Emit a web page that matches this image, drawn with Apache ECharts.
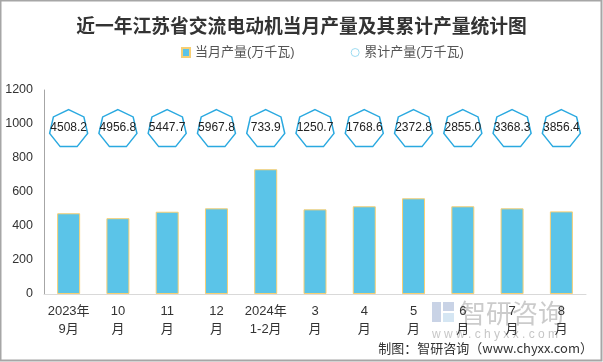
<!DOCTYPE html>
<html><head><meta charset="utf-8">
<script src="https://cdn.jsdelivr.net/npm/echarts@6/dist/echarts.min.js"></script>
<style>html,body{margin:0;padding:0;background:#fff}#c{width:603px;height:362px}</style>
</head><body><div id="c"></div>
<script>
const categories = ['2023年\n9月','10\n月','11\n月','12\n月','2024年\n1-2月','3\n月','4\n月','5\n月','6\n月','7\n月','8\n月'];
const monthly = [475, 446, 484, 504, 733.9, 498, 516, 563, 516, 504, 486];
const cumulative = [4508.2, 4956.8, 5447.7, 5967.8, 733.9, 1250.7, 1768.6, 2372.8, 2855.0, 3368.3, 3856.4];
const yTicks = {min: 0, max: 1200, interval: 200};

const markerLevel = 976;
const hept = 'path://M100 0 L178.18 37.65 L197.49 122.25 L143.39 190.1 L56.61 190.1 L2.51 122.25 L21.82 37.65 Z';
const FONT = '"Liberation Sans","Noto Sans CJK SC",sans-serif';

const chart = echarts.init(document.getElementById('c'), null, {renderer:'canvas'});
chart.setOption({
  animation:false,
  backgroundColor:'#fff',
  title:{text:'近一年江苏省交流电动机当月产量及其累计产量统计图', left:'center', top:11,
    textStyle:{fontFamily:'"Noto Sans CJK SC",sans-serif', fontSize:18.8, fontWeight:'bold', color:'#333'}},
  legend:{left:176, top:41, itemGap:56, itemWidth:8, itemHeight:9,
    textStyle:{fontFamily:FONT, fontSize:13, color:'#555'},
    data:[{name:'当月产量(万千瓦)', icon:'rect'},
          {name:'累计产量(万千瓦)', icon:'circle', itemStyle:{color:'#fff', borderColor:'#9ddcf2', borderWidth:1}}]},
  grid:{left:44, right:17, top:90, bottom:68, containLabel:false},
  xAxis:{type:'category', data:categories,
    axisLine:{lineStyle:{color:'#d9d9d9', width:1}}, axisTick:{show:false},
    axisLabel:{interval:0, fontFamily:FONT, fontSize:13, color:'#333', lineHeight:18, margin:8}},
  yAxis:{type:'value', min:yTicks.min, max:yTicks.max, interval:yTicks.interval,
    axisLine:{show:true, lineStyle:{color:'#a6a6a6'}}, axisTick:{show:false}, splitLine:{show:false},
    axisLabel:{fontFamily:FONT, fontSize:12.5, color:'#333', margin:11, formatter:v=>String(v)}},
  series:[
    {name:'当月产量(万千瓦)', type:'bar', data:monthly, barWidth:23,
      itemStyle:{color:'#5bc4e8', borderColor:'#f7cf73', borderWidth:1}},
    {name:'累计产量(万千瓦)', type:'scatter', data:cumulative.map(()=>markerLevel),
      symbol:hept, symbolSize:[38,37],
      itemStyle:{color:'#fff', borderColor:'#2aa9e0', borderWidth:1.5, opacity:1},
      label:{show:true, position:'inside', fontFamily:FONT, fontSize:12, color:'#222',
        formatter:p=>cumulative[p.dataIndex].toFixed(1)}, z:5}
  ],
  graphic:[
    {type:'rect', shape:{x:0.5,y:0.5,width:601,height:360}, style:{fill:'none', stroke:'#a6a6a6', lineWidth:2}, silent:true},
    {type:'group', left:432, top:300, children:[
      {type:'rect', shape:{x:0,y:2,width:9,height:20}, style:{fill:'#c9d3e6'}},
      {type:'rect', shape:{x:11,y:2,width:11,height:9}, style:{fill:'#c9d3e6'}},
      {type:'rect', shape:{x:11,y:13,width:11,height:9}, style:{fill:'#d5e6f3'}},
      {type:'text', x:28, y:0, style:{text:'智研咨询', font:'26px "Noto Sans CJK SC"', fill:'rgba(160,160,160,0.55)'}},
      {type:'text', x:0, y:29, style:{text:'w w w . c h y x x . c o m', font:'12px "Liberation Sans"', fill:'rgba(160,160,160,0.6)'}}
    ]},
    {type:'text', right:10, top:342, style:{text:'制图：智研咨询（www.chyxx.com）', font:'13px "Noto Sans CJK SC"', fill:'#333'}}
  ]
});
</script></body></html>
